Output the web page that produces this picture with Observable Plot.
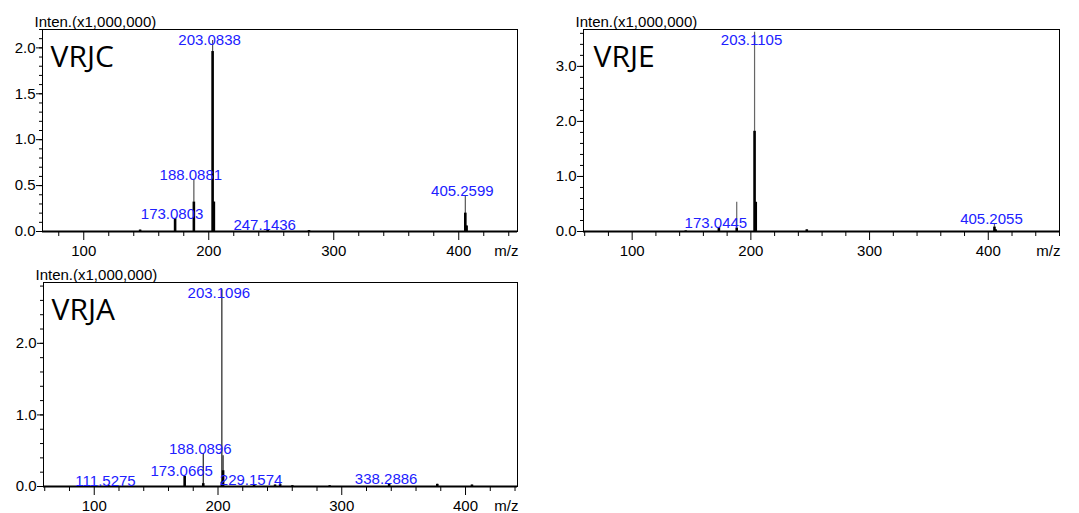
<!DOCTYPE html>
<html><head><meta charset="utf-8">
<script src="https://cdn.jsdelivr.net/npm/d3@7"></script>
<script src="https://cdn.jsdelivr.net/npm/@observablehq/plot@0.6"></script>
<style>
body{margin:0;background:#fff;width:1079px;height:513px;position:relative;overflow:hidden;font-family:"Liberation Sans",Arial,sans-serif}
.p{position:absolute}
</style></head><body>
<div id="p1" class="p" style="left:0;top:0"></div>
<div id="p2" class="p" style="left:540px;top:0"></div>
<div id="p3" class="p" style="left:0;top:258px"></div>
<script>
// ---- data (intensity in units of 1,000,000) ----
const panelNames = ["VRJC", "VRJE", "VRJA"];
const yAxisTitle = "Inten.(x1,000,000)";
const xAxisTitle = "m/z";

const vrjcMz    = [145.1, 173.0803, 188.0881, 203.0838, 204.09, 247.1436, 280.2, 405.2599, 406.26];
const vrjcInten = [0.015, 0.14,     0.556,    2.08,     0.32,   0.02,     0.01,  0.39,     0.06];
const vrjcCore  = [0.015, 0.14,     0.32,     1.96,     0.32,   0.02,     0.01,  0.20,     0.06];
const vrjcLabels = [173.0803, 188.0881, 203.0838, 247.1436, 405.2599];

const vrjeMz    = [145.1, 173.0445, 188.08, 203.1105, 204.11, 247.1, 405.2055, 406.2];
const vrjeInten = [0.01,  0.07,     0.53,   3.62,     0.53,   0.03,  0.14,     0.03];
const vrjeCore  = [0.01,  0.07,     0.06,   1.82,     0.53,   0.03,  0.08,     0.03];
const vrjeLabels = [173.0445, 203.1105, 405.2055];

const vrjaMz    = [88.1, 111.5275, 130.1, 173.0665, 188.0896, 203.1096, 204.11, 229.1574, 246.1, 250.2, 260.1, 290.2, 338.2886, 377.2, 405.2];
const vrjaInten = [0.01, 0.01,     0.005, 0.14,     0.46,     2.75,     0.43,   0.02,     0.02,  0.03,  0.01,  0.01,  0.04,     0.03,  0.02];
const vrjaCore  = [0.01, 0.01,     0.005, 0.14,     0.04,     0.06,     0.22,   0.02,     0.02,  0.03,  0.01,  0.01,  0.04,     0.03,  0.02];
const vrjaLabels = [111.5275, 173.0665, 188.0896, 203.1096, 229.1574, 338.2886];

const xMajorTicks = [100, 200, 300, 400];
const vrjcYTicks = [0, 0.5, 1.0, 1.5, 2.0];
const vrjeYTicks = [0, 1.0, 2.0, 3.0];
const vrjaYTicks = [0, 1.0, 2.0];

// ---- drawing ----
function panel(cfg) {
  const peaks = cfg.mz.map((m, i) => ({mz: m, h: cfg.inten[i], c: cfg.core[i]}));
  const ymax = cfg.yDomain[1];
  const labels = cfg.labels.map(m => {
    const p = peaks.find(d => d.mz === m);
    return {mz: m, y: Math.min(p.h, ymax * 0.925)};
  });
  const xMinor = d3.range(60, 470, 20).filter(v => v >= cfg.xDomain[0] && v <= cfg.xDomain[1] && v % 100 !== 0);
  const yMinor = d3.range(0, ymax + 1e-9, cfg.yMinorStep).map(v => +v.toFixed(2));
  const chart = Plot.plot({
    width: cfg.width, height: cfg.height,
    marginLeft: cfg.m[0], marginTop: cfg.m[1], marginRight: cfg.m[2], marginBottom: cfg.m[3],
    style: {fontFamily: '"Liberation Sans", Arial, sans-serif', fontSize: "15px", color: "black", background: "white", overflow: "visible"},
    x: {domain: cfg.xDomain},
    y: {domain: cfg.yDomain},
    marks: [
      Plot.axisY(yMinor, {tickSize: 3, tickFormat: () => "", label: null}),
      Plot.axisY(cfg.yTicks, {tickSize: 6, tickPadding: 1, tickFormat: d => d.toFixed(1), label: null, fontSize: 15}),
      Plot.axisX(xMinor, {tickSize: 5, tickFormat: () => "", label: null}),
      Plot.axisX(xMajorTicks, {tickSize: 9, tickPadding: 5, tickFormat: d => String(d), label: null, fontSize: 15}),
      Plot.ruleX(peaks, {x: "mz", y1: 0, y2: "h", stroke: cfg.thin, strokeWidth: 1.2}),
      Plot.ruleX(peaks, {x: "mz", y1: 0, y2: "c", stroke: "#000", strokeWidth: 2.6}),
      Plot.ruleY([0], {stroke: "#000", strokeWidth: 2}),
      Plot.frame({stroke: "#000", strokeWidth: 1}),
      Plot.text(labels, {x: "mz", y: "y", text: d => d.mz.toFixed(4), fill: "#2020ff", dx: -3, lineAnchor: "bottom", fontSize: 15}),
      Plot.text([cfg.name], {text: d => d, frameAnchor: "top-left", dx: cfg.nameDx, dy: cfg.nameDy, textAnchor: "start", lineAnchor: "top", fontSize: 30, fontFamily: '"Open Sans", "Noto Sans", sans-serif'}),
      Plot.text([yAxisTitle], {text: d => d, frameAnchor: "top-left", dx: -8, dy: -3, textAnchor: "start", lineAnchor: "bottom", fontSize: 15}),
      Plot.text([xAxisTitle], {text: d => d, frameAnchor: "bottom-right", dx: 1, dy: 20, textAnchor: "end", lineAnchor: "middle", fontSize: 15})
    ]
  });
  document.getElementById(cfg.el).appendChild(chart);
}

panel({el: "p1", name: panelNames[0], width: 540, height: 258, m: [42, 29, 23, 27],
  xDomain: [67, 447], yDomain: [0, 2.2], yTicks: vrjcYTicks, yMinorStep: 0.1, thin: "#555",
  mz: vrjcMz, inten: vrjcInten, core: vrjcCore, labels: vrjcLabels, nameDx: 8, nameDy: 16});
panel({el: "p2", name: panelNames[1], width: 539, height: 258, m: [43, 29, 20, 27],
  xDomain: [59, 460], yDomain: [0, 3.67], yTicks: vrjeYTicks, yMinorStep: 0.2, thin: "#666",
  mz: vrjeMz, inten: vrjeInten, core: vrjeCore, labels: vrjeLabels, nameDx: 10, nameDy: 16});
panel({el: "p3", name: panelNames[2], width: 540, height: 255, m: [43, 24, 23, 27],
  xDomain: [59, 442], yDomain: [0, 2.85], yTicks: vrjaYTicks, yMinorStep: 0.2, thin: "#222",
  mz: vrjaMz, inten: vrjaInten, core: vrjaCore, labels: vrjaLabels, nameDx: 8, nameDy: 16});
</script>
</body></html>
